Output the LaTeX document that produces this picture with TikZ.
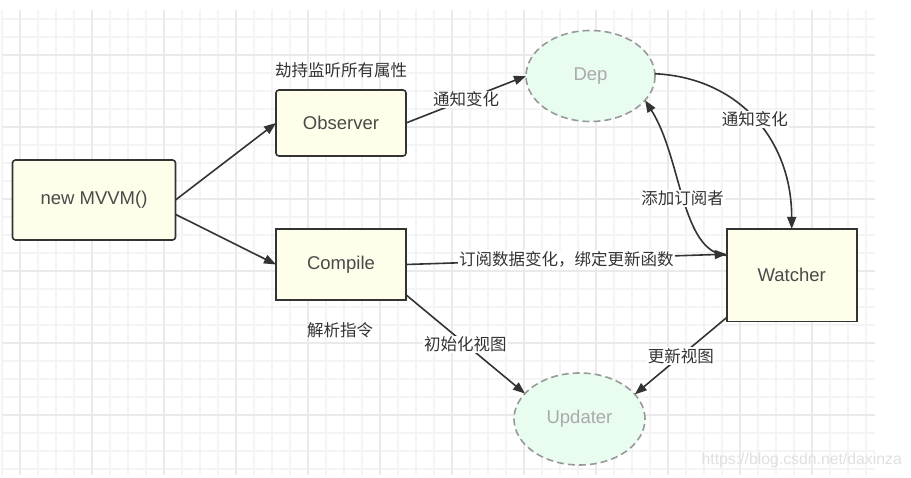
\documentclass[tikz,border=0pt]{standalone}
\usepackage{fontspec}
\setmainfont{Liberation Sans}
\newfontfamily\cjk{Noto Sans CJK SC}
\usetikzlibrary{arrows.meta,shapes.geometric}
\definecolor{boxfill}{HTML}{FEFEEA}
\definecolor{boxline}{HTML}{333333}
\definecolor{elfill}{HTML}{E8FCF0}
\definecolor{elline}{HTML}{999999}
\definecolor{txt}{HTML}{4A4A4A}
\definecolor{eltxt}{HTML}{AAAAAA}
\definecolor{labtxt}{HTML}{333333}
\definecolor{gridminor}{HTML}{F4F4F4}
\definecolor{gridmajor}{HTML}{EAEAEA}
\definecolor{wm}{HTML}{E0E0E0}
\begin{document}
\begin{tikzpicture}[x=1pt,y=-1pt,
 box/.style={draw=boxline,line width=1.6pt,fill=boxfill,inner sep=0pt,outer sep=0pt,font=\fontsize{18.5}{20}\selectfont,text=txt},
 rbox/.style={box,rounded corners=3pt},
 ell/.style={ellipse,draw=elline,dash pattern=on 7pt off 4pt,line width=1.6pt,fill=elfill,inner sep=0pt,outer sep=0pt,font=\fontsize{18.5}{20}\selectfont,text=eltxt},
 conn/.style={draw=boxline,line width=1.6pt,-{Triangle[length=12pt,width=9pt]}},
 lab/.style={font=\cjk\fontsize{16.5}{18}\selectfont,text=labtxt,fill=white,inner sep=1pt},
 freelab/.style={font=\cjk\fontsize{16.5}{18}\selectfont,text=labtxt,inner sep=0pt},
 gminor/.style={draw=gridminor,line width=1.2pt},
 gmajor/.style={draw=gridmajor,line width=1.2pt}]
\useasboundingbox[fill=white] (0,0) rectangle (911,478);
% grid
\foreach \k in {0,...,48} \draw[gminor] ({2+18*\k},10) -- ({2+18*\k},475);
\foreach \k in {0,...,25} \draw[gminor] (2,{19+18*\k}) -- (875,{19+18*\k});
\foreach \k in {0,...,11} \draw[gmajor] ({20+72*\k},10) -- ({20+72*\k},475);
\foreach \k in {0,...,5} \draw[gmajor] (2,{55+72*\k}) -- (875,{55+72*\k});
% nodes
\node[rbox,minimum width=163pt,minimum height=80pt] (mvvm) at (94,200) {new MVVM()};
\node[rbox,minimum width=130pt,minimum height=66pt] (obs) at (341,123) {Observer};
\node[box,minimum width=130pt,minimum height=71pt] (comp) at (341,264.5) {Compile};
\node[box,minimum width=130pt,minimum height=92.7pt] (watch) at (791.7,275.3) {Watcher};
\node[ell,minimum width=129pt,minimum height=91pt] (dep) at (590.5,76) {Dep};
\node[ell,minimum width=131pt,minimum height=92pt] (upd) at (579.5,419) {Updater};
\node[freelab] (t1) at (341,70) {劫持监听所有属性};
\node[freelab] (t2) at (340,330) {解析指令};
% connectors
\draw[conn] (mvvm.east) -- (obs.west);
\draw[conn] (mvvm.-10) -- (comp.west);
\draw[conn] (obs.east) -- node[lab,pos=0.5] (l1) {通知变化} (dep.west);
\draw[conn] (comp.east) -- node[lab,pos=0.5] (l2) {订阅数据变化，绑定更新函数} (watch.162);
\draw[conn] (comp.-25) -- node[lab,pos=0.5] (l3) {初始化视图} (upd.155);
\draw[conn] (watch.213) -- node[lab,pos=0.5] (l4) {更新视图} (upd.24);
\draw[conn] (dep.2) .. controls +(84,4) and +(0,-89) .. node[lab,pos=0.5] (l5) {通知变化} (watch.north);
\draw[conn] (watch.163) .. controls +(-46,-3) and +(37,58) .. node[lab,pos=0.5] (l6) {添加订阅者} (dep.-24);
% watermark
\node[font=\fontsize{15.8}{17}\selectfont,text=wm,inner sep=0pt] (wmk) at (801.7,460) {https://blog.csdn.net/daxinza};
\end{tikzpicture}
\end{document}
